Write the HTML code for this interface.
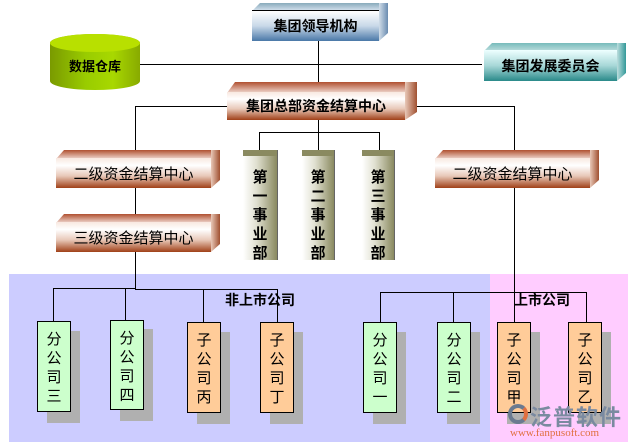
<!DOCTYPE html><html><head><meta charset="utf-8"><style>
body{margin:0;width:631px;height:446px;position:relative;background:#fff;overflow:hidden;font-family:"Liberation Sans","Noto Sans CJK SC",sans-serif}
div{position:absolute;box-sizing:border-box}
.l{background:#000}
.f{display:flex;align-items:center;justify-content:center;font-weight:bold;font-size:14px;color:#000}
.t{clip-path:polygon(0 100%,8px 0,100% 0,calc(100% - 8px) 100%)}
.s{clip-path:polygon(0 0,100% 0,100% calc(100% - 8px),0 100%)}
.br{background:linear-gradient(#f8e8e0,#fff 25%,#e8c8b8 60%,#a04018)}
.v{width:34px;border:1.5px solid #000;font-size:15px;line-height:19px;text-align:center;padding-top:8px}
.sh{background:#b0b0b0}
.g{background:#ccffcc}.o{background:#ffcc99}
.col{text-align:center;font-weight:bold;font-size:15px;line-height:19px;padding-top:12px;background:linear-gradient(90deg,#fff,#e0e0d0 40%,#8a8a60)}
</style></head><body>
<div style="left:9px;top:274px;width:481px;height:168px;background:#ccccff"></div>
<div style="left:490px;top:274px;width:138px;height:168px;background:#ffccff"></div>
<div class="l" style="left:140px;top:64px;width:342px;height:1px"></div>
<div class="l" style="left:318px;top:40px;width:1px;height:53px"></div>
<div class="l" style="left:135px;top:106px;width:92px;height:1px"></div>
<div class="l" style="left:135px;top:106px;width:1px;height:50px"></div>
<div class="l" style="left:410px;top:106px;width:105px;height:1px"></div>
<div class="l" style="left:514px;top:106px;width:1px;height:50px"></div>
<div class="l" style="left:318px;top:120px;width:1px;height:40px"></div>
<div class="l" style="left:259px;top:132px;width:121px;height:1px"></div>
<div class="l" style="left:259px;top:132px;width:1px;height:28px"></div>
<div class="l" style="left:379px;top:132px;width:1px;height:28px"></div>
<div class="l" style="left:135px;top:185px;width:1px;height:104px"></div>
<div class="l" style="left:53px;top:288px;width:83px;height:1px"></div>
<div class="l" style="left:135px;top:289px;width:142px;height:1px"></div>
<div class="l" style="left:53px;top:288px;width:1px;height:34px"></div>
<div class="l" style="left:125px;top:289px;width:1px;height:32px"></div>
<div class="l" style="left:203px;top:289px;width:1px;height:34px"></div>
<div class="l" style="left:277px;top:289px;width:1px;height:34px"></div>
<div class="l" style="left:514px;top:185px;width:1px;height:138px"></div>
<div class="l" style="left:380px;top:292px;width:207px;height:1px"></div>
<div class="l" style="left:380px;top:292px;width:1px;height:31px"></div>
<div class="l" style="left:453px;top:292px;width:1px;height:31px"></div>
<div class="l" style="left:586px;top:292px;width:1px;height:31px"></div>
<div class="t" style="left:252px;top:3px;width:136px;height:8px;background:linear-gradient(#8ab,#d8e4f0)"></div>
<div class="s" style="left:379px;top:3px;width:9px;height:38px;background:linear-gradient(90deg,#d0dce8,#6a8cb0)"></div>
<div class="f" style="left:252px;top:10px;width:127px;height:31px;background:linear-gradient(#fff,#c8d8e8 50%,#4a78a8);border-top:1px solid #000">集团领导机构</div>
<div style="left:50px;top:34px;width:90px;height:56px;background:linear-gradient(90deg,#7a9a00,#99cc00 40%,#a8d800 70%,#88aa00);border-radius:45px/9px"></div>
<div style="left:50px;top:34px;width:90px;height:18px;background:#b8e000;border-radius:50%"></div>
<div class="f" style="left:50px;top:52px;width:90px;height:26px;font-size:13px">数据仓库</div>
<div class="t" style="left:484px;top:43px;width:142px;height:8px;background:linear-gradient(#7bb,#bdd)"></div>
<div class="s" style="left:617px;top:43px;width:9px;height:38px;background:linear-gradient(90deg,#bdd,#399)"></div>
<div class="f" style="left:484px;top:50px;width:133px;height:31px;background:linear-gradient(#eff,#a8d8d8 50%,#2a8a8a)">集团发展委员会</div>
<div class="t" style="left:227px;top:82px;width:190px;height:11px;background:linear-gradient(#b05030,#f0d8d0)"></div>
<div class="s" style="left:405px;top:82px;width:12px;height:38px;background:linear-gradient(90deg,#e8c8b8,#a05030)"></div>
<div class="f br" style="left:227px;top:92px;width:178px;height:28px">集团总部资金结算中心</div>
<div class="t" style="left:56px;top:150px;width:164px;height:9px;background:linear-gradient(#b05030,#f0d8d0)"></div>
<div class="s" style="left:211px;top:150px;width:9px;height:38px;background:linear-gradient(90deg,#e8c8b8,#a05030)"></div>
<div class="f br" style="left:56px;top:158px;width:155px;height:30px;font-weight:normal;font-size:15px">二级资金结算中心</div>
<div class="t" style="left:56px;top:214px;width:164px;height:9px;background:linear-gradient(#b05030,#f0d8d0)"></div>
<div class="s" style="left:211px;top:214px;width:9px;height:38px;background:linear-gradient(90deg,#e8c8b8,#a05030)"></div>
<div class="f br" style="left:56px;top:222px;width:155px;height:30px;font-weight:normal;font-size:15px">三级资金结算中心</div>
<div class="t" style="left:435px;top:150px;width:164px;height:9px;background:linear-gradient(#b05030,#f0d8d0)"></div>
<div class="s" style="left:590px;top:150px;width:9px;height:38px;background:linear-gradient(90deg,#e8c8b8,#a05030)"></div>
<div class="f br" style="left:435px;top:158px;width:155px;height:30px;font-weight:normal;font-size:15px">二级资金结算中心</div>
<div style="left:243px;top:150px;width:40px;height:6px;background:#8a8a60"></div>
<div class="col" style="left:243px;top:156px;width:34px;height:104px">第<br>一<br>事<br>业<br>部</div>
<div style="left:277px;top:150px;width:6px;height:110px;background:#fff;border-left:1px solid #666"></div>
<div style="left:302px;top:150px;width:38px;height:6px;background:#8a8a60"></div>
<div class="col" style="left:302px;top:156px;width:32px;height:104px">第<br>二<br>事<br>业<br>部</div>
<div style="left:334px;top:150px;width:6px;height:110px;background:#fff;border-left:1px solid #666"></div>
<div style="left:362px;top:150px;width:38px;height:6px;background:#8a8a60"></div>
<div class="col" style="left:362px;top:156px;width:32px;height:104px">第<br>三<br>事<br>业<br>部</div>
<div style="left:394px;top:150px;width:6px;height:110px;background:#fff;border-left:1px solid #666"></div>
<div style="left:225px;top:290px;font-weight:bold;font-size:14px">非上市公司</div>
<div style="left:514px;top:290px;font-weight:bold;font-size:14px">上市公司</div>
<div class="sh" style="left:47px;top:331px;width:33px;height:92px"></div><div class="v g" style="left:37px;top:321px;height:91px">分<br>公<br>司<br>三</div>
<div class="sh" style="left:120px;top:329px;width:33px;height:92px"></div><div class="v g" style="left:110px;top:320px;height:90px">分<br>公<br>司<br>四</div>
<div class="sh" style="left:197px;top:332px;width:33px;height:92px"></div><div class="v o" style="left:187px;top:322px;height:91px">子<br>公<br>司<br>丙</div>
<div class="sh" style="left:270px;top:332px;width:33px;height:92px"></div><div class="v o" style="left:260px;top:322px;height:91px">子<br>公<br>司<br>丁</div>
<div class="sh" style="left:373px;top:332px;width:33px;height:92px"></div><div class="v g" style="left:363px;top:322px;height:91px">分<br>公<br>司<br>一</div>
<div class="sh" style="left:447px;top:332px;width:33px;height:92px"></div><div class="v g" style="left:437px;top:322px;height:91px">分<br>公<br>司<br>二</div>
<div class="sh" style="left:507px;top:332px;width:33px;height:92px"></div><div class="v o" style="left:497px;top:322px;height:91px">子<br>公<br>司<br>甲</div>
<div class="sh" style="left:578px;top:332px;width:33px;height:92px"></div><div class="v o" style="left:568px;top:322px;height:91px">子<br>公<br>司<br>乙</div>
<div style="left:508px;top:404px;width:20px;height:20px;border-radius:50%;border:4px solid #6a7a90;border-right-color:#e07040"></div>
<div style="left:530px;top:400px;font-size:22px;color:#7a8aa0;font-weight:bold;letter-spacing:1px">泛普软件</div>
<div style="left:510px;top:427px;font-size:11px;color:#e07040;font-family:'Liberation Serif',serif">www.fanpusoft.com</div>
</body></html>
